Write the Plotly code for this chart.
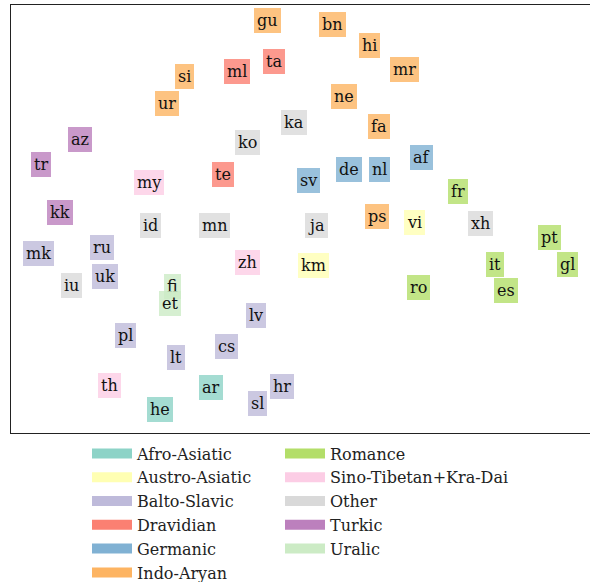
import plotly.graph_objects as go

# language codes, 2-D embedding coordinates, and family
langs = ["gu","bn","hi","mr","ta","ml","si","ur","ne","ka","fa","az","ko","tr","af","de","nl","sv","te","my","fr","kk",
         "id","mn","ja","ps","vi","xh","pt","mk","ru","zh","km","it","gl","iu","uk","fi","et","ro","es","lv","pl","cs",
         "lt","th","ar","hr","he","sl"]
xs = [267,332,369,404,274,237,184,167,344,294,379,80,247,41,421,349,379,308,223,149,458,60,
      150,214,316,377,414,480,549,38,102,247,313,495,567,71,105,172,170,418,506,256,125,226,
      176,109,211,282,160,257]
ys = [413,409,388,364,372,362,357,330,337,311,307,294,291,269,276,264,264,253,259,251,242,221,
      208,208,208,217,211,210,196,180,186,171,168,169,169,148,157,147,130,146,143,118,98,87,
      76,48,46,47,24,30]
families = ["Indo-Aryan","Indo-Aryan","Indo-Aryan","Indo-Aryan","Dravidian","Dravidian","Indo-Aryan","Indo-Aryan",
            "Indo-Aryan","Other","Indo-Aryan","Turkic","Other","Turkic","Germanic","Germanic","Germanic","Germanic",
            "Dravidian","Sino-Tibetan+Kra-Dai","Romance","Turkic","Other","Other","Other","Indo-Aryan","Austro-Asiatic",
            "Other","Romance","Balto-Slavic","Balto-Slavic","Sino-Tibetan+Kra-Dai","Austro-Asiatic","Romance","Romance",
            "Other","Balto-Slavic","Uralic","Uralic","Romance","Romance","Balto-Slavic","Balto-Slavic","Balto-Slavic",
            "Balto-Slavic","Sino-Tibetan+Kra-Dai","Afro-Asiatic","Balto-Slavic","Afro-Asiatic","Balto-Slavic"]

family_names = ["Afro-Asiatic","Austro-Asiatic","Balto-Slavic","Dravidian","Germanic","Indo-Aryan",
                "Romance","Sino-Tibetan+Kra-Dai","Other","Turkic","Uralic"]
family_colors = ["#8dd3c7","#ffffb3","#bebada","#fb8072","#80b1d3","#fdb462",
                 "#b3de69","#fccde5","#d9d9d9","#bc80bd","#ccebc5"]
cmap = dict(zip(family_names, family_colors))

def rgba(h, a):
    h = h.lstrip("#")
    return "rgba(%d,%d,%d,%.2f)" % (int(h[0:2],16), int(h[2:4],16), int(h[4:6],16), a)

fig = go.Figure()

# invisible points so the axes cover the data
fig.add_trace(go.Scatter(x=xs, y=ys, mode="markers", marker=dict(opacity=0), showlegend=False, hoverinfo="skip"))

# legend entries in two columns (two legends)
for i, name in enumerate(family_names):
    fig.add_trace(go.Scatter(x=[None], y=[None], mode="lines", name=name,
                             legend="legend" if i < 6 else "legend2", legendgroup=name,
                             line=dict(color=cmap[name], width=14)))

annotations = []
for lg, x, y, f in zip(langs, xs, ys, families):
    annotations.append(dict(x=x, y=y, xref="x", yref="y", text=lg, showarrow=False,
                            font=dict(family="DejaVu Serif", size=16, color="#111"),
                            bgcolor=rgba(cmap[f], 0.8), borderpad=3, borderwidth=0))

legend_style = dict(orientation="v", xanchor="left", yanchor="top", xref="container", yref="container",
                    font=dict(family="DejaVu Serif", size=16, color="#222"), itemwidth=40,
                    bgcolor="rgba(0,0,0,0)", tracegroupgap=0)

fig.update_layout(
    width=590, height=582,
    margin=dict(l=11, r=0, t=5, b=149, autoexpand=False),
    paper_bgcolor="white", plot_bgcolor="white",
    annotations=annotations,
    xaxis=dict(range=[11, 590], showgrid=False, zeroline=False, showticklabels=False, ticks="",
               showline=True, mirror=True, linecolor="#222", linewidth=1),
    yaxis=dict(range=[0, 428], showgrid=False, zeroline=False, showticklabels=False, ticks="",
               showline=True, mirror=True, linecolor="#222", linewidth=1),
    legend=dict(x=87/590, y=1 - 436.5/582, **legend_style),
    legend2=dict(x=280/590, y=1 - 436.5/582, **legend_style),
    showlegend=True,
)

fig.write_html("out.html", config={"displayModeBar": False},
               post_script="document.body.style.margin='0';document.body.style.overflow='hidden';")
